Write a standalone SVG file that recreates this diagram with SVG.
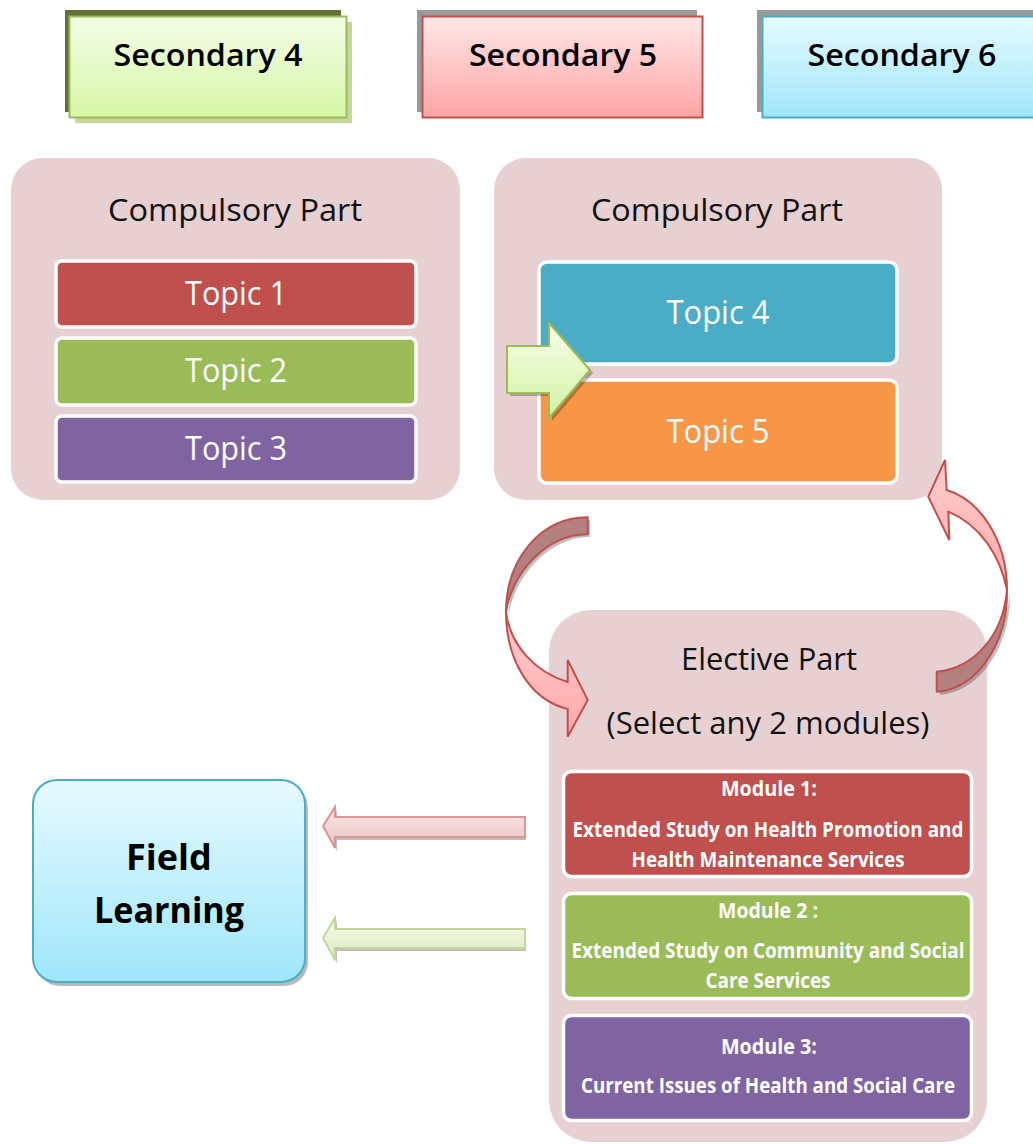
<svg xmlns="http://www.w3.org/2000/svg" width="1033" height="1144" viewBox="0 0 1033 1144">
<defs>
<linearGradient id="g4" x1="0" y1="0" x2="0" y2="1"><stop offset="0" stop-color="#f4fde8"/><stop offset="1" stop-color="#d6f7a6"/></linearGradient>
<linearGradient id="g5" x1="0" y1="0" x2="0" y2="1"><stop offset="0" stop-color="#ffe6e6"/><stop offset="1" stop-color="#ffa5a5"/></linearGradient>
<linearGradient id="g6" x1="0" y1="0" x2="0" y2="1"><stop offset="0" stop-color="#e6faff"/><stop offset="1" stop-color="#9fe6fa"/></linearGradient>
<linearGradient id="gGreenArrow" x1="0" y1="0" x2="0" y2="1"><stop offset="0" stop-color="#f7fdeb"/><stop offset="1" stop-color="#d2f3a2"/></linearGradient>
<linearGradient id="gRedFlat" x1="0" y1="0" x2="0" y2="1"><stop offset="0" stop-color="#f8e8e8"/><stop offset="1" stop-color="#e9c0c0"/></linearGradient>
<linearGradient id="gGreenFlat" x1="0" y1="0" x2="0" y2="1"><stop offset="0" stop-color="#f5faeb"/><stop offset="1" stop-color="#dbeabb"/></linearGradient>
<linearGradient id="gCurve" x1="0" y1="0" x2="0" y2="1"><stop offset="0" stop-color="#ffcdcd"/><stop offset="1" stop-color="#ffa9a9"/></linearGradient>
<style>
.part{fill:#e7d0d1}
.ttl{font-family:"Open Sans","DejaVu Sans",sans-serif;font-size:31px;fill:#111;text-anchor:middle}
.hdr{font-family:"Open Sans","DejaVu Sans",sans-serif;font-weight:600;font-size:31px;fill:#000;text-anchor:middle}
.topic{stroke:#fff;stroke-width:3.5}
.tt{font-family:"Open Sans","DejaVu Sans",sans-serif;font-size:32px;fill:#fff;text-anchor:middle}
.mt{font-family:"Open Sans","DejaVu Sans",sans-serif;font-weight:700;font-size:21.5px;fill:#fff;text-anchor:middle}
.fl{font-family:"Open Sans","DejaVu Sans",sans-serif;font-weight:700;font-size:36px;fill:#000;text-anchor:middle}
.shadow{fill:#000;opacity:0.25}
</style>
</defs>

<g id="secondary4">
<rect x="65" y="10" width="276" height="102" fill="#617136"/>
<rect x="75" y="22" width="277" height="101" fill="#c5d79c"/>
<rect x="69.5" y="16.5" width="277" height="101" fill="url(#g4)" stroke="#9bbb59" stroke-width="2"/>
<text class="hdr" x="208" y="66" textLength="189" lengthAdjust="spacingAndGlyphs">Secondary 4</text>
</g>
<g id="secondary5">
<rect x="417" y="10" width="280" height="102" fill="#999999"/>
<rect x="422.5" y="16.5" width="280" height="101" fill="url(#g5)" stroke="#c0504d" stroke-width="2"/>
<text class="hdr" x="563" y="66" textLength="188" lengthAdjust="spacingAndGlyphs">Secondary 5</text>
</g>
<g id="secondary6">
<rect x="757" y="10" width="280" height="102" fill="#999999"/>
<rect x="762.5" y="16.5" width="280" height="101" fill="url(#g6)" stroke="#4bacc6" stroke-width="2"/>
<text class="hdr" x="902" y="66" textLength="189" lengthAdjust="spacingAndGlyphs">Secondary 6</text>
</g>

<g id="compulsory-s4">
<rect class="part" x="11" y="158" width="449" height="342" rx="32"/>
<text class="ttl" x="235" y="221" textLength="254" lengthAdjust="spacingAndGlyphs">Compulsory Part</text>
<rect class="topic" x="56" y="261" width="360" height="66" rx="6" fill="#c0504d"/>
<text class="tt" x="236" y="305" textLength="102" lengthAdjust="spacingAndGlyphs">Topic 1</text>
<rect class="topic" x="56" y="338" width="360" height="67" rx="6" fill="#9bbb59"/>
<text class="tt" x="236" y="382" textLength="102" lengthAdjust="spacingAndGlyphs">Topic 2</text>
<rect class="topic" x="56" y="416" width="360" height="66" rx="6" fill="#8064a2"/>
<text class="tt" x="236" y="460" textLength="102" lengthAdjust="spacingAndGlyphs">Topic 3</text>
</g>

<g id="compulsory-s5">
<rect class="part" x="494" y="158" width="448" height="342" rx="32"/>
<text class="ttl" x="717" y="221" textLength="252" lengthAdjust="spacingAndGlyphs">Compulsory Part</text>
<rect class="topic" x="539" y="262" width="358" height="102" rx="8" fill="#4bacc6"/>
<text class="tt" x="718" y="324" textLength="103" lengthAdjust="spacingAndGlyphs">Topic 4</text>
<rect class="topic" x="539" y="380" width="358" height="103" rx="8" fill="#f79646"/>
<text class="tt" x="718" y="443" textLength="103" lengthAdjust="spacingAndGlyphs">Topic 5</text>
</g>

<g id="elective">
<rect class="part" x="549" y="610" width="438" height="532" rx="42"/>
<text class="ttl" x="769" y="670" font-size="33" textLength="176" lengthAdjust="spacingAndGlyphs">Elective Part</text>
<text class="ttl" x="768" y="734" font-size="33" textLength="323" lengthAdjust="spacingAndGlyphs">(Select any 2 modules)</text>
<g id="module1">
<rect class="topic" x="563.5" y="771.5" width="408" height="105" rx="8" fill="#c0504d"/>
<text class="mt" x="769" y="796" textLength="96" lengthAdjust="spacingAndGlyphs">Module 1:</text>
<text class="mt" x="768" y="837" textLength="391" lengthAdjust="spacingAndGlyphs">Extended Study on Health Promotion and</text>
<text class="mt" x="768" y="867" textLength="273" lengthAdjust="spacingAndGlyphs">Health Maintenance Services</text>
</g>
<g id="module2">
<rect class="topic" x="563.5" y="893.5" width="408" height="105" rx="8" fill="#9bbb59"/>
<text class="mt" x="768" y="918" textLength="100" lengthAdjust="spacingAndGlyphs">Module 2 :</text>
<text class="mt" x="768" y="958" textLength="393" lengthAdjust="spacingAndGlyphs">Extended Study on Community and Social</text>
<text class="mt" x="768" y="988" textLength="125" lengthAdjust="spacingAndGlyphs">Care Services</text>
</g>
<g id="module3">
<rect class="topic" x="563.5" y="1015.5" width="408" height="105" rx="8" fill="#8064a2"/>
<text class="mt" x="769" y="1054" textLength="96" lengthAdjust="spacingAndGlyphs">Module 3:</text>
<text class="mt" x="768" y="1093" textLength="374" lengthAdjust="spacingAndGlyphs">Current Issues of Health and Social Care</text>
</g>
</g>

<g id="field-learning">
<rect x="36" y="784" width="272" height="202" rx="24" fill="#8a8a8a" opacity="0.6"/>
<rect x="33" y="780" width="272" height="202" rx="24" fill="url(#g6)" stroke="#4bacc6" stroke-width="2"/>
<text class="fl" x="169" y="870">Field</text>
<text class="fl" x="169" y="923" textLength="150" lengthAdjust="spacingAndGlyphs">Learning</text>
</g>

<g id="connectors">
<path class="shadow" d="M510,349 L552,349 L552,326 L593,373 L552,421 L552,396 L510,396 Z"/>
<path d="M507,346 L549,346 L549,323 L590,370 L549,418 L549,393 L507,393 Z" fill="url(#gGreenArrow)" stroke="#9bbb59" stroke-width="2" stroke-linejoin="miter"/>

<path class="shadow" d="M590,520 C543,520 509,563 509,615 C514,578 548,537 590,537 Z"/>
<path d="M587.7,517.3 C540,517.3 506,560 506,612 C511,575 545,534.3 587.7,534.3 Z" fill="#b47f7f" stroke="#c0504d" stroke-width="2" stroke-linejoin="round"/>
<path d="M506,612 C506,660 530,700 567.7,709 L567.7,736.7 L587.7,700 L567.7,660 L567.7,682 C535,672 510,645 506,612 Z" fill="url(#gCurve)" stroke="#c0504d" stroke-width="2" stroke-linejoin="miter"/>

<path class="shadow" d="M1010,593 C1011,648 978,693 939.7,694.7 L939.7,674.7 C978,671 1006,638 1010,593 Z"/>
<path d="M1007,590 C1008,645 975,690 936.7,691.7 L936.7,671.7 C975,668 1003,635 1007,590 Z" fill="#b47f7f" stroke="#c0504d" stroke-width="2" stroke-linejoin="round"/>
<path d="M945,460 L946.7,490 C980,500 1007,540 1007,590 C1000,555 980,525 948.3,511.7 L949.3,540 L928.3,496.7 Z" fill="url(#gCurve)" stroke="#c0504d" stroke-width="2" stroke-linejoin="miter"/>

<path class="shadow" d="M526,820 L337,820 L337,810 L325,829 L337,851 L337,840 L526,840 Z"/>
<path d="M525,817 L335,817 L335,807 L323,826 L335,848 L335,837 L525,837 Z" fill="url(#gRedFlat)" stroke="#d99694" stroke-width="2"/>
<path class="shadow" d="M526,932 L337,932 L337,921 L325,941 L337,963 L337,951 L526,951 Z"/>
<path d="M525,929 L335,929 L335,918 L323,938 L335,960 L335,948 L525,948 Z" fill="url(#gGreenFlat)" stroke="#c3d69b" stroke-width="2"/>
</g>
</svg>
